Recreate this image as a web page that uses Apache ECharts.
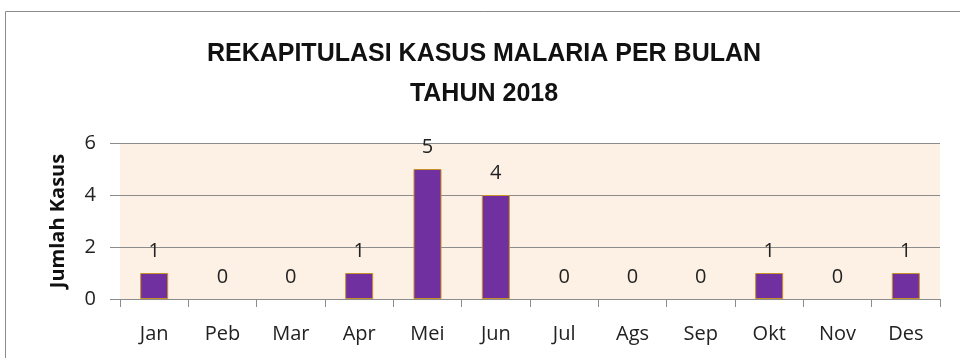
<!DOCTYPE html>
<html>
<head>
<meta charset="utf-8">
<script src="https://cdn.jsdelivr.net/npm/echarts@6/dist/echarts.min.js"></script>
<style>
  html, body { margin: 0; padding: 0; background: #ffffff; }
  #chart { width: 960px; height: 358px; }
</style>
</head>
<body>
<div id="chart"></div>
<script>
// Monthly malaria case counts, 2018
const months = ['Jan', 'Peb', 'Mar', 'Apr', 'Mei', 'Jun', 'Jul', 'Ags', 'Sep', 'Okt', 'Nov', 'Des'];
const cases = [1, 0, 0, 1, 5, 4, 0, 0, 0, 1, 0, 1];
const yTicks = [0, 2, 4, 6];

const titleFont = '"Liberation Sans", Arial, sans-serif';
const font = '"Open Sans", "Noto Sans", sans-serif';
const chart = echarts.init(document.getElementById('chart'), null, { renderer: 'canvas' });

// empty months get no outline so no stray line sits on the baseline
const barData = cases.map(v => ({
  value: v,
  itemStyle: v === 0 ? { borderWidth: 0, opacity: 0 } : undefined
}));

chart.setOption({
  animation: false,
  backgroundColor: '#ffffff',
  graphic: [{
    type: 'rect',
    shape: { x: 5.5, y: 11.5, width: 1000, height: 400 },
    style: { fill: 'none', stroke: '#8c8c8c', lineWidth: 1 },
    silent: true
  }],
  title: {
    text: 'REKAPITULASI KASUS MALARIA PER BULAN\nTAHUN 2018',
    left: 479,
    top: 29,
    textAlign: 'center',
    textStyle: {
      fontFamily: titleFont,
      fontWeight: 'bold',
      fontSize: 25,
      lineHeight: 40,
      color: '#111111'
    }
  },
  grid: {
    left: 120,
    right: 20,
    top: 143,
    bottom: 59,
    show: true,
    backgroundColor: '#FDF0E4',
    borderWidth: 0
  },
  xAxis: {
    type: 'category',
    data: months,
    axisLine: { show: true, lineStyle: { color: '#8c8c8c', width: 1 } },
    axisTick: { show: true, length: 8, alignWithLabel: false, lineStyle: { color: '#8c8c8c' } },
    axisLabel: {
      fontFamily: font,
      fontSize: 20,
      color: '#222222',
      margin: 25
    }
  },
  yAxis: {
    type: 'value',
    min: yTicks[0],
    max: yTicks[yTicks.length - 1],
    interval: 2,
    name: 'Jumlah Kasus',
    nameLocation: 'middle',
    nameGap: 52,
    nameRotate: 90,
    nameTextStyle: {
      fontFamily: font,
      fontWeight: 'bold',
      fontSize: 20,
      color: '#111111'
    },
    axisLine: { show: false },
    axisTick: { show: true, length: 10, lineStyle: { color: '#8c8c8c' } },
    axisLabel: {
      fontFamily: font,
      fontSize: 20,
      color: '#222222',
      margin: 24
    },
    splitLine: { show: true, lineStyle: { color: '#8c8c8c', width: 1 } }
  },
  series: [{
    type: 'bar',
    data: barData,
    barWidth: '41%',
    itemStyle: {
      color: '#7030A0',
      borderColor: '#C8922A',
      borderWidth: 1
    },
    label: {
      show: true,
      position: 'top',
      distance: 12,
      fontFamily: font,
      fontSize: 20,
      color: '#222222',
      opacity: 1
    }
  }]
});
</script>
</body>
</html>
